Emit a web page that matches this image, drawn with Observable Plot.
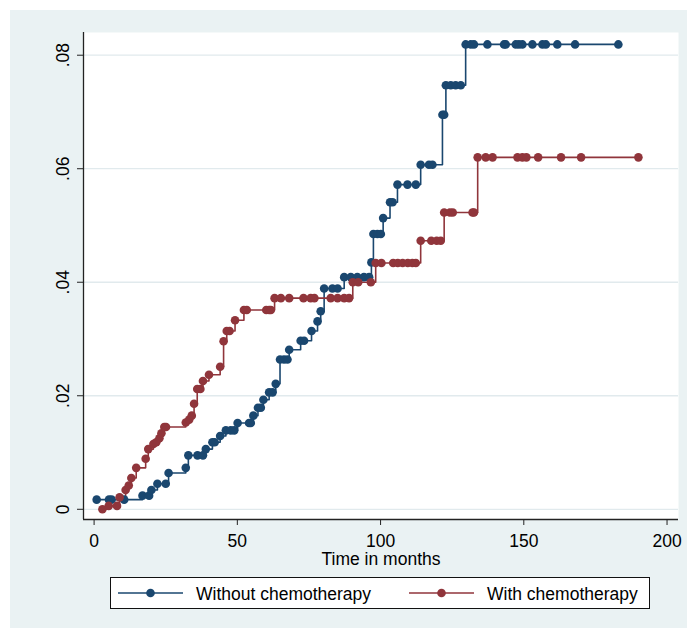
<!DOCTYPE html>
<html>
<head>
<meta charset="utf-8">
<script src="https://cdn.jsdelivr.net/npm/d3@7"></script>
<script src="https://cdn.jsdelivr.net/npm/@observablehq/plot@0.6"></script>
<style>
  html, body { margin: 0; padding: 0; background: #ffffff; width: 687px; height: 633px; overflow: hidden;
    font-family: "Liberation Sans", Arial, sans-serif; }
  #bg { position: absolute; left: 10px; top: 10px; width: 677px; height: 618px; background: #eaf2f3; }
  #chart { position: absolute; left: 0; top: 0; }
  #legend { position: absolute; left: 110px; top: 577px; }
</style>
</head>
<body>
<div id="bg"></div>
<div id="chart"></div>
<div id="legend"></div>
<script>
// ---- Data ----
const seriesNames = ["Without chemotherapy", "With chemotherapy"];
const seriesColors = ["#1a476f", "#90353b"];

const withoutTime = [
  0.9, 5.2, 6.1, 10.5, 16.9, 19.2, 20.0, 22.1, 25.0, 26.0,
  32.0, 32.9, 36.1, 38.0, 39.0, 41.3, 42.1, 44.0, 46.0, 47.7,
  48.9, 50.1, 54.1, 54.7, 55.6, 57.2, 58.2, 59.1, 61.1, 62.3,
  63.4, 64.9, 66.3, 67.5, 68.1, 72.1, 73.3, 75.9, 78.0, 79.1,
  80.3, 83.2, 85.0, 87.3, 89.6, 91.9, 94.2, 96.0, 96.8, 97.5,
  98.9, 100.1, 100.9, 103.3, 104.2, 105.9, 109.4, 112.3, 114.0, 116.9,
  118.1, 121.6, 122.2, 122.8, 124.5, 126.2, 128.0, 129.7, 131.5, 132.6,
  137.3, 143.1, 143.7, 147.2, 148.3, 149.5, 153.0, 156.5, 157.7, 161.7,
  167.9, 183.0
];
const withoutCif = [
  0.0017, 0.0017, 0.0017, 0.0017, 0.0024, 0.0024, 0.0034, 0.0045, 0.0045, 0.0064,
  0.0073, 0.0095, 0.0095, 0.0095, 0.0106, 0.0118, 0.0118, 0.0129, 0.0139, 0.0139,
  0.0139, 0.0152, 0.0152, 0.0152, 0.0165, 0.0179, 0.0179, 0.0193, 0.0206, 0.0206,
  0.0221, 0.0264, 0.0264, 0.0264, 0.0281, 0.0297, 0.0297, 0.0314, 0.0331, 0.0349,
  0.0389, 0.0389, 0.0389, 0.0409, 0.0409, 0.0409, 0.0409, 0.0409, 0.0435, 0.0485,
  0.0485, 0.0485, 0.0513, 0.0541, 0.0541, 0.0572, 0.0572, 0.0572, 0.0607, 0.0607,
  0.0607, 0.0695, 0.0695, 0.0747, 0.0747, 0.0747, 0.0747, 0.0819, 0.0819, 0.0819,
  0.0819, 0.0819, 0.0819, 0.0819, 0.0819, 0.0819, 0.0819, 0.0819, 0.0819, 0.0819,
  0.0819, 0.0819
];

const withTime = [
  2.9, 5.1, 8.0, 8.9, 11.0, 12.1, 13.0, 14.7, 18.0, 18.9,
  20.7, 21.7, 22.8, 23.5, 24.5, 25.1, 32.0, 33.2, 34.1, 34.9,
  36.0, 37.1, 38.0, 40.1, 44.0, 45.2, 46.3, 47.3, 49.2, 52.3,
  53.3, 60.1, 61.1, 61.7, 63.0, 65.2, 68.1, 73.1, 75.6, 76.9,
  82.6, 85.0, 87.3, 89.0, 90.3, 92.2, 96.6, 98.3, 100.3, 104.4,
  106.0, 107.7, 109.5, 111.1, 112.3, 114.0, 117.7, 119.6, 121.0, 122.2,
  124.2, 125.2, 132.1, 132.6, 133.9, 136.7, 139.1, 147.8, 149.5, 150.9,
  155.0, 163.0, 170.0, 190.0
];
const withCif = [
  0.0000, 0.0006, 0.0006, 0.0021, 0.0034, 0.0042, 0.0055, 0.0073, 0.0089, 0.0106,
  0.0115, 0.0118, 0.0125, 0.0134, 0.0145, 0.0145, 0.0153, 0.0158, 0.0165, 0.0186,
  0.0212, 0.0212, 0.0226, 0.0237, 0.0251, 0.0296, 0.0314, 0.0314, 0.0333, 0.0351,
  0.0351, 0.0351, 0.0351, 0.0351, 0.0372, 0.0372, 0.0372, 0.0372, 0.0372, 0.0372,
  0.0372, 0.0372, 0.0372, 0.0372, 0.0400, 0.0400, 0.0400, 0.0434, 0.0434, 0.0434,
  0.0434, 0.0434, 0.0434, 0.0434, 0.0434, 0.0473, 0.0473, 0.0473, 0.0473, 0.0523,
  0.0523, 0.0523, 0.0523, 0.0523, 0.0620, 0.0620, 0.0620, 0.0620, 0.0620, 0.0620,
  0.0620, 0.0620, 0.0620, 0.0620
];

const xTicks = [0, 50, 100, 150, 200];
const yTicks = [0, 0.02, 0.04, 0.06, 0.08];
const yTickLabels = ["0", ".02", ".04", ".06", ".08"];
const xLabel = "Time in months";

// ---- Build table ----
const rows = [
  ...withoutTime.map((t, i) => ({series: seriesNames[0], t, v: withoutCif[i]})),
  ...withTime.map((t, i) => ({series: seriesNames[1], t, v: withCif[i]}))
];

const xDomain = [-3.7, 204];
const yDomain = [-0.0018, 0.084];
const font = "'Liberation Sans', Arial, sans-serif";

const plot = Plot.plot({
  width: 687,
  height: 570,
  marginLeft: 83,
  marginRight: 9,
  marginTop: 32,
  marginBottom: 51,
  style: {background: "transparent", fontFamily: font, fontSize: "17.5px", color: "#000", overflow: "visible"},
  x: {domain: xDomain, label: null},
  y: {domain: yDomain, label: null},
  color: {domain: seriesNames, range: seriesColors},
  marks: [
    Plot.frame({fill: "white", stroke: "none"}),
    Plot.gridY(yTicks, {stroke: "#e1eaed", strokeOpacity: 1, strokeWidth: 1.3}),
    Plot.line(rows, {x: "t", y: "v", z: "series", stroke: "series", curve: "step-after", strokeWidth: 1.6}),
    Plot.dot(rows, {x: "t", y: "v", fill: "series", r: 4.3, stroke: "none"}),
    Plot.ruleX([xDomain[0]], {stroke: "#222", strokeWidth: 1.3}),
    Plot.ruleY([yDomain[0]], {stroke: "#222", strokeWidth: 1.3}),
    Plot.axisX(xTicks, {tickSize: 6, tickPadding: 9, stroke: "#222", fill: "#000", label: null, fontSize: 17.5}),
    Plot.axisY(yTicks, {tickSize: 6, tickFormat: () => "", stroke: "#222", label: null}),
    Plot.text(yTicks, {y: d => d, text: (d, i) => yTickLabels[i], frameAnchor: "left", dx: -20.5,
      rotate: -90, textAnchor: "middle", lineAnchor: "middle", fill: "#000", fontSize: 17.5}),
    Plot.text([xLabel], {text: d => d, frameAnchor: "bottom", lineAnchor: "bottom", dy: 45.5,
      textAnchor: "middle", fill: "#000", fontSize: 17.5})
  ]
});
document.getElementById("chart").appendChild(plot);

// ---- Legend (below the plot) ----
const lw = 540, lh = 32;
const lsvg = d3.select("#legend").append("svg")
  .attr("width", lw).attr("height", lh)
  .style("font-family", font).style("font-size", "17.5px");
lsvg.append("rect").attr("x", 0.5).attr("y", 0.5).attr("width", lw - 1).attr("height", lh - 1)
  .attr("fill", "white").attr("stroke", "#111").attr("stroke-width", 1);
const items = [
  {name: seriesNames[0], color: seriesColors[0], x0: 8},
  {name: seriesNames[1], color: seriesColors[1], x0: 299}
];
items.forEach(it => {
  const g = lsvg.append("g");
  g.append("line").attr("x1", it.x0).attr("x2", it.x0 + 65).attr("y1", 16).attr("y2", 16)
    .attr("stroke", it.color).attr("stroke-width", 1.6);
  g.append("circle").attr("cx", it.x0 + 32.5).attr("cy", 16).attr("r", 4.3).attr("fill", it.color);
  g.append("text").attr("x", it.x0 + 78).attr("y", 23).attr("fill", "#000").text(it.name);
});
</script>
</body>
</html>
